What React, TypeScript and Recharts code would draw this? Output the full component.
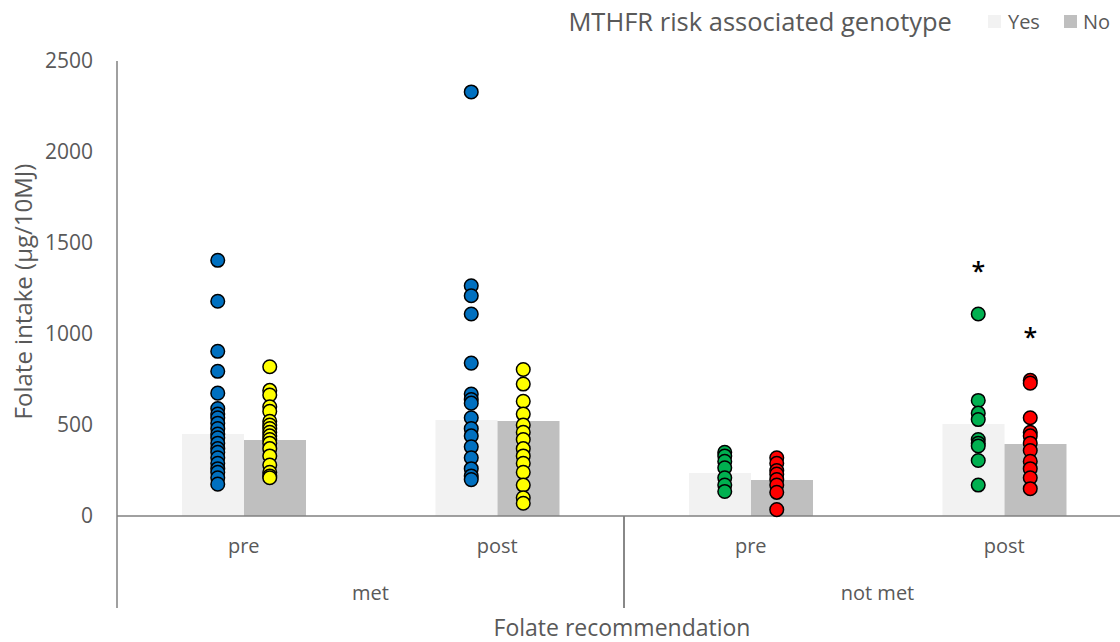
import { Bar, ComposedChart, Label, Scatter, XAxis, YAxis } from 'recharts';

// categories on the x axis (phase within recommendation group)
const categoryKeys = ['met-pre', 'met-post', 'notmet-pre', 'notmet-post'];
const phaseLabels = ['pre', 'post', 'pre', 'post'];
const groupLabels = ['met', 'met', 'not met', 'not met'];

// mean folate intake per genotype group
const yesMeans = [450, 527, 236, 506];
const noMeans = [418, 522, 198, 396];

const yTicks = [0, 500, 1000, 1500, 2000, 2500];

// individual intakes (µg/10MJ)
const metPreYes = [1405, 1180, 905, 795, 675, 590, 560, 540, 510, 480, 450, 430, 400, 370, 350, 320, 290, 260, 240, 210, 175];
const metPreNo = [820, 690, 665, 600, 575, 520, 500, 480, 460, 440, 420, 400, 370, 330, 280, 240, 220, 210];
const metPostYes = [2330, 1265, 1210, 1110, 840, 670, 640, 620, 540, 480, 440, 380, 320, 260, 220, 200];
const metPostNo = [805, 725, 630, 560, 500, 460, 420, 370, 330, 290, 240, 170, 100, 70];
const notMetPreYes = [350, 330, 300, 265, 210, 170, 135];
const notMetPreNo = [320, 290, 250, 230, 200, 170, 130, 35];
const notMetPostYes = [1110, 635, 565, 530, 420, 400, 385, 305, 170];
const notMetPostNo = [745, 730, 540, 460, 440, 400, 360, 300, 260, 210, 150];

const FONT = '"Open Sans", sans-serif';
const TEXT = '#595959';
const AXIS = '#808080';
const YES_FILL = '#F2F2F2';
const NO_FILL = '#BFBFBF';
const BAR_SIZE = 62;
const DOT_SHIFT = 26;
const PHASE_AXIS_H = 46;
const GROUP_AXIS_H = 46;

const chartData = categoryKeys.map((key, i) => ({
  key,
  group: groupLabels[i],
  yes: yesMeans[i],
  no: noMeans[i],
}));

interface DotSeries {
  key: string;
  values: number[];
  color: string;
  side: -1 | 1;
  starred?: boolean;
}

const dotSeries: DotSeries[] = [
  { key: 'met-pre', values: metPreYes, color: '#0070C0', side: -1 },
  { key: 'met-pre', values: metPreNo, color: '#FFFF00', side: 1 },
  { key: 'met-post', values: metPostYes, color: '#0070C0', side: -1 },
  { key: 'met-post', values: metPostNo, color: '#FFFF00', side: 1 },
  { key: 'notmet-pre', values: notMetPreYes, color: '#00B050', side: -1 },
  { key: 'notmet-pre', values: notMetPreNo, color: '#FF0000', side: 1 },
  { key: 'notmet-post', values: notMetPostYes, color: '#00B050', side: -1, starred: true },
  { key: 'notmet-post', values: notMetPostNo, color: '#FF0000', side: 1, starred: true },
];

const makeDot = (color: string, side: number) => (props: any) => {
  const { cx, cy } = props;
  if (cx == null || cy == null) return <g />;
  return <circle cx={cx + side * DOT_SHIFT} cy={cy} r={6.8} fill={color} stroke="#000" strokeWidth={1.5} />;
};

const makeStar = (side: number) => (props: any) => {
  const { cx, cy } = props;
  if (cx == null || cy == null) return <g />;
  return (
    <text
      x={cx + side * DOT_SHIFT}
      y={cy - 34}
      textAnchor="middle"
      fontFamily={FONT}
      fontSize={25}
      fontWeight={600}
      fill="#000"
    >
      *
    </text>
  );
};

const PhaseTick = (props: any) => {
  const { x, y, payload } = props;
  const idx = categoryKeys.indexOf(payload.value);
  return (
    <text x={x} y={y + 37} textAnchor="middle" fontFamily={FONT} fontSize={20} fill={TEXT}>
      {phaseLabels[idx]}
    </text>
  );
};

const GroupTick = (props: any) => {
  const { x, y, payload, width } = props;
  const half = payload.offset ?? width / 4;
  const top = y - PHASE_AXIS_H;
  const bottom = y + GROUP_AXIS_H;
  return (
    <g>
      <line x1={x - half} x2={x - half} y1={top} y2={bottom} stroke={AXIS} strokeWidth={1.5} />
      <line x1={x + half} x2={x + half} y1={top} y2={bottom} stroke={AXIS} strokeWidth={1.5} />
      <text x={x} y={y + 38} textAnchor="middle" fontFamily={FONT} fontSize={20} fill={TEXT}>
        {payload.value}
      </text>
    </g>
  );
};

const LegendBox = () => (
  <div
    style={{
      position: 'absolute',
      top: 4,
      right: 10,
      display: 'flex',
      alignItems: 'center',
      fontFamily: FONT,
      color: TEXT,
    }}
  >
    <span style={{ fontSize: 25.5, marginRight: 36 }}>MTHFR risk associated genotype</span>
    <span style={{ width: 13, height: 13, background: YES_FILL, marginRight: 7 }} />
    <span style={{ fontSize: 20, marginRight: 24 }}>Yes</span>
    <span style={{ width: 13, height: 13, background: NO_FILL, marginRight: 6 }} />
    <span style={{ fontSize: 20 }}>No</span>
  </div>
);

export default function App() {
  return (
    <div style={{ position: 'fixed', left: 0, top: 0, width: 1120, height: 642, overflow: 'hidden', background: '#fff' }}>
      <ComposedChart
        width={1140}
        height={642}
        data={chartData}
        margin={{ top: 61, right: 9, bottom: 34, left: 0 }}
        barGap={0}
      >
        <XAxis
          dataKey="key"
          type="category"
          allowDuplicatedCategory={false}
          height={PHASE_AXIS_H}
          tickLine={false}
          tickSize={0}
          tickMargin={0}
          axisLine={{ stroke: AXIS, strokeWidth: 1.5 }}
          tick={<PhaseTick />}
          interval={0}
        />
        <XAxis
          xAxisId="group"
          dataKey="group"
          type="category"
          allowDuplicatedCategory={false}
          height={GROUP_AXIS_H}
          tickLine={false}
          tickSize={0}
          tickMargin={0}
          axisLine={false}
          tick={<GroupTick />}
          interval={0}
        >
          <Label
            content={({ viewBox }: any) => (
              <text
                x={viewBox.x + viewBox.width / 2 - 2}
                y={viewBox.y + viewBox.height + 28}
                textAnchor="middle"
                fontFamily={FONT}
                fontSize={23}
                fill={TEXT}
              >
                Folate recommendation
              </text>
            )}
          />
        </XAxis>
        <YAxis
          width={117}
          domain={[0, 2500]}
          ticks={yTicks}
          type="number"
          tickLine={false}
          tickSize={0}
          tickMargin={24}
          axisLine={{ stroke: AXIS, strokeWidth: 1.5 }}
          tick={{ fontFamily: FONT, fontSize: 21, fill: TEXT }}
        >
          <Label
            content={({ viewBox }: any) => {
              const cx = 22;
              const cy = viewBox.y + viewBox.height / 2 + 3;
              return (
                <text
                  x={cx}
                  y={cy}
                  transform={`rotate(-90 ${cx} ${cy})`}
                  textAnchor="middle"
                  dominantBaseline="central"
                  fontFamily={FONT}
                  fontSize={24}
                  fill={TEXT}
                >
                  Folate intake (µg/10MJ)
                </text>
              );
            }}
          />
        </YAxis>
        <Bar dataKey="yes" name="Yes" fill={YES_FILL} barSize={BAR_SIZE} isAnimationActive={false} />
        <Bar dataKey="no" name="No" fill={NO_FILL} barSize={BAR_SIZE} isAnimationActive={false} />
        {dotSeries.map((s, i) => (
          <Scatter
            key={`dots-${i}`}
            data={s.values.map((v) => ({ key: s.key, v }))}
            dataKey="v"
            shape={makeDot(s.color, s.side)}
            isAnimationActive={false}
          />
        ))}
        {dotSeries
          .filter((s) => s.starred)
          .map((s, i) => (
            <Scatter
              key={`star-${i}`}
              data={[{ key: s.key, v: Math.max(...s.values) }]}
              dataKey="v"
              shape={makeStar(s.side)}
              isAnimationActive={false}
            />
          ))}
      </ComposedChart>
      <LegendBox />
    </div>
  );
}
